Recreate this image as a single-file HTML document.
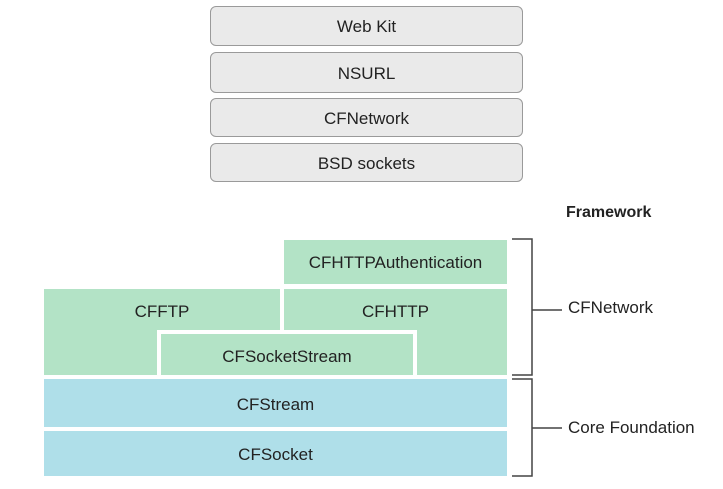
<!DOCTYPE html>
<html><head><style>
body{margin:0;width:723px;height:489px;background:#fff;position:relative;font-family:"Liberation Sans",sans-serif;overflow:hidden}
.b{position:absolute;display:flex;align-items:center;justify-content:center;color:#222;font-size:17px;box-sizing:border-box}
.g{background:#eaeaea;border:1px solid #9a9a9a;border-radius:6px;left:210px;width:313px;padding-top:2px}
.gr{background:#b3e3c6}
.bl{background:#afdfe9}
.t{position:absolute;font-size:17px;color:#222}
</style></head><body>
<div class="b g" style="top:6px;height:40px">Web Kit</div>
<div class="b g" style="top:52px;height:41px">NSURL</div>
<div class="b g" style="top:98px;height:39px">CFNetwork</div>
<div class="b g" style="top:143px;height:39px">BSD sockets</div>

<div class="b gr" style="left:284px;top:240px;width:223px;height:44px;padding-top:2px">CFHTTPAuthentication</div>
<div class="b gr" style="left:44px;top:289px;width:236px;height:86px;align-items:flex-start;padding-top:13px">CFFTP</div>
<div class="b gr" style="left:284px;top:289px;width:223px;height:86px;align-items:flex-start;padding-top:13px">CFHTTP</div>
<div class="b gr" style="left:157px;top:330px;width:260px;height:45px;border:4px solid #fff;border-bottom:none;padding-top:4px">CFSocketStream</div>
<div class="b bl" style="left:44px;top:379px;width:463px;height:48px;padding-top:3px">CFStream</div>
<div class="b bl" style="left:44px;top:431px;width:463px;height:45px;padding-top:3px">CFSocket</div>

<svg style="position:absolute;left:0;top:0" width="723" height="489">
<g stroke="#444" stroke-width="1.5" fill="none">
<path d="M512 239H532V375H512M532 310H562"/>
<path d="M512 379H532V476H512M532 428H562"/>
</g></svg>
<div class="t" style="left:566px;top:204px;font-weight:bold;font-size:16px">Framework</div>
<div class="t" style="left:568px;top:298px">CFNetwork</div>
<div class="t" style="left:568px;top:418px">Core Foundation</div>
</body></html>
